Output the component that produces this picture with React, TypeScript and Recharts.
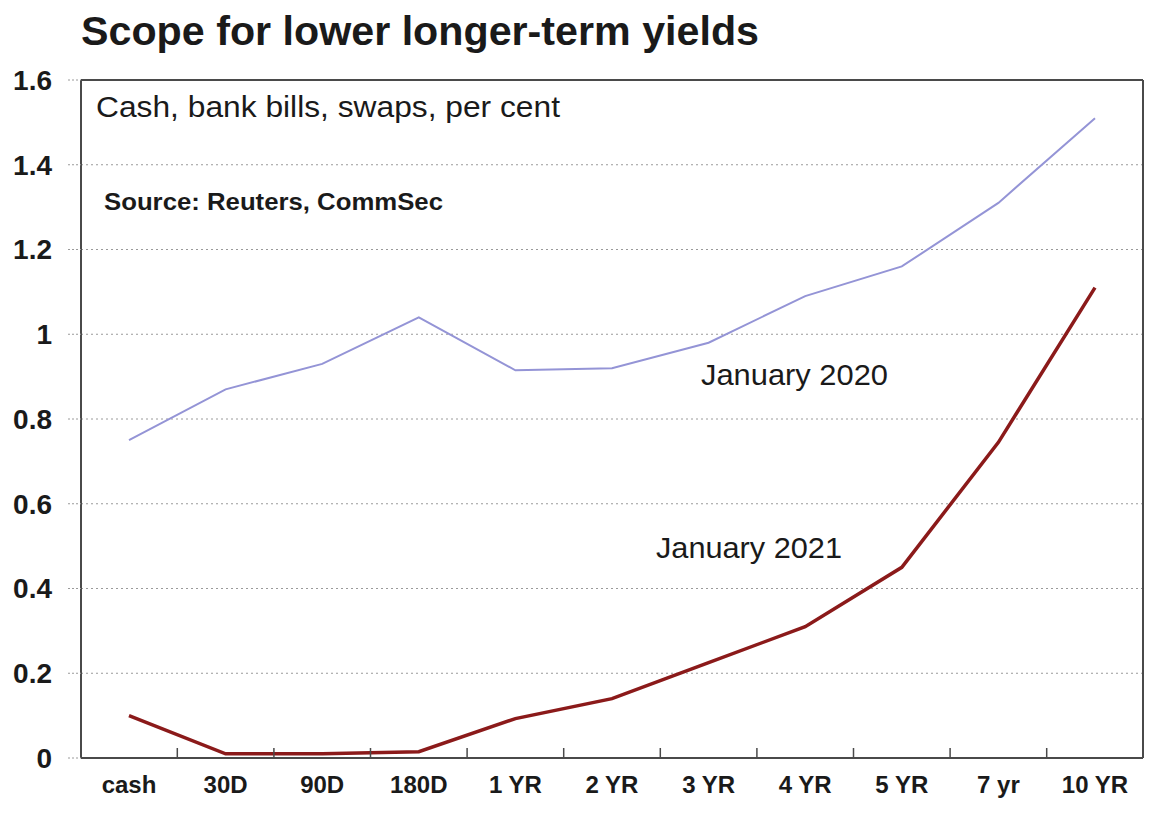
import React from 'react';
import { LineChart, Line, XAxis, YAxis, CartesianGrid, ReferenceLine } from 'recharts';

// Tenors along the curve
const CATEGORIES = ['cash', '30D', '90D', '180D', '1 YR', '2 YR', '3 YR', '4 YR', '5 YR', '7 yr', '10 YR'];
// Yields, per cent
const JAN_2020 = [0.75, 0.87, 0.93, 1.04, 0.915, 0.92, 0.98, 1.09, 1.16, 1.31, 1.51];
const JAN_2021 = [0.1, 0.01, 0.01, 0.015, 0.093, 0.14, 0.225, 0.31, 0.45, 0.745, 1.11];
const Y_TICKS = [0, 0.2, 0.4, 0.6, 0.8, 1, 1.2, 1.4, 1.6];

const W = 1160;
const H = 816;
const FONT = "'Liberation Sans', Arial, Helvetica, sans-serif";
const AXIS = '#4a4a4a';
const PLOT_LEFT = 81;
const PLOT_RIGHT = 1143;
const X_PAD = 48;
const STEP = (PLOT_RIGHT - PLOT_LEFT - 2 * X_PAD) / (CATEGORIES.length - 1);

const data = CATEGORIES.map((tenor, i) => ({
  tenor,
  jan2020: JAN_2020[i],
  jan2021: JAN_2021[i],
}));

// Category label plus a small inward tick on the boundary to its left
const XTick = (props: any) => {
  const { x, y, payload, index } = props;
  return (
    <g>
      {index > 0 && (
        <line x1={x - STEP / 2} x2={x - STEP / 2} y1={y} y2={y - 10} stroke={AXIS} strokeWidth={1.5} />
      )}
      <text x={x} y={y + 35} textAnchor="middle" fontFamily={FONT} fontSize={24} fontWeight="bold" fill="#1a1a1a">
        {payload.value}
      </text>
    </g>
  );
};

const App: React.FC = () => (
  <div style={{ position: 'absolute', left: 0, top: 0, width: W, height: H, background: '#fff' }}>
    <LineChart width={W} height={H} data={data} margin={{ top: 80, right: 0, bottom: 8, left: 0 }}>
      <CartesianGrid yAxisId="l" vertical={false} stroke="#9a9a9a" strokeDasharray="2 3" />
      <XAxis
        dataKey="tenor"
        height={50}
        padding={{ left: X_PAD, right: X_PAD }}
        interval={0}
        tickSize={0}
        tickMargin={0}
        tickLine={false}
        tick={<XTick />}
        axisLine={{ stroke: AXIS, strokeWidth: 2 }}
      />
      <YAxis
        yAxisId="l"
        width={PLOT_LEFT}
        domain={[0, 1.6]}
        ticks={Y_TICKS}
        interval={0}
        tickFormatter={(v: number) => String(Number(v.toFixed(1)))}
        tickSize={13}
        tickMargin={16}
        tickLine={{ stroke: '#9a9a9a', strokeDasharray: '2 2' }}
        axisLine={{ stroke: AXIS, strokeWidth: 2 }}
        tick={{ fontFamily: FONT, fontSize: 28, fontWeight: 'bold', fill: '#1a1a1a' }}
      />
      <YAxis
        yAxisId="r"
        orientation="right"
        width={W - PLOT_RIGHT}
        domain={[0, 1.6]}
        tick={false}
        tickLine={false}
        axisLine={{ stroke: AXIS, strokeWidth: 2 }}
      />
      <ReferenceLine yAxisId="l" y={1.6} stroke={AXIS} strokeWidth={2} />
      <Line
        yAxisId="l"
        type="linear"
        dataKey="jan2020"
        stroke="#9494d6"
        strokeWidth={2}
        dot={false}
        isAnimationActive={false}
      />
      <Line
        yAxisId="l"
        type="linear"
        dataKey="jan2021"
        stroke="#8b1a1a"
        strokeWidth={3.5}
        dot={false}
        isAnimationActive={false}
      />
    </LineChart>

    {/* Title and in-plot annotations */}
    <svg width={W} height={H} style={{ position: 'absolute', left: 0, top: 0, pointerEvents: 'none' }}>
      <g fontFamily={FONT} fill="#1a1a1a">
        <text x={81} y={45} fontSize={40} fontWeight="bold" textLength={678} lengthAdjust="spacingAndGlyphs">
          Scope for lower longer-term yields
        </text>
        <text x={96} y={117} fontSize={30} textLength={464} lengthAdjust="spacingAndGlyphs">
          Cash, bank bills, swaps, per cent
        </text>
        <text x={104} y={210} fontSize={24} fontWeight="bold" textLength={339} lengthAdjust="spacingAndGlyphs">
          Source: Reuters, CommSec
        </text>
        <text x={701} y={385} fontSize={30} textLength={187} lengthAdjust="spacingAndGlyphs">
          January 2020
        </text>
        <text x={656} y={558} fontSize={30} textLength={186} lengthAdjust="spacingAndGlyphs">
          January 2021
        </text>
      </g>
    </svg>
  </div>
);

export default App;
